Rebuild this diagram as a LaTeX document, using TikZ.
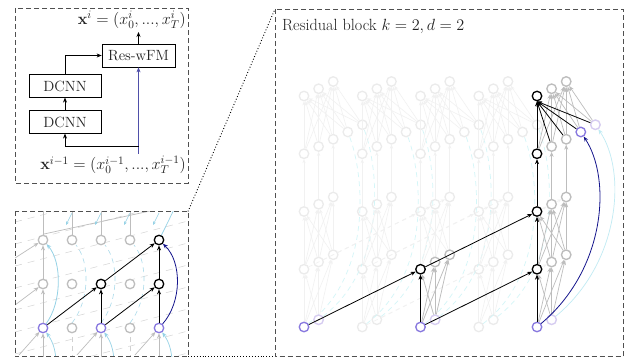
\RequirePackage{fix-cm}
\documentclass[tikz,border=0pt]{standalone}
\usetikzlibrary{arrows.meta}
\definecolor{ngray}{HTML}{BDBDBD}
\definecolor{faintn}{HTML}{EBEBEB}
\definecolor{faintl}{HTML}{F1F1F1}
\definecolor{purp}{HTML}{8878E0}
\definecolor{lpurp}{HTML}{D6CCF2}
\definecolor{navyc}{HTML}{14148C}
\definecolor{skyc}{HTML}{96D2E6}
\definecolor{palecyan}{HTML}{D4F6F8}
\definecolor{framec}{HTML}{505050}
\definecolor{texgray}{HTML}{D4D4D4}
\definecolor{txt}{HTML}{222222}
\begin{document}
\begin{tikzpicture}[x=1pt,y=-1pt,
 every node/.style={font=\fontsize{14.8}{17}\selectfont,text=txt},
 bigtxt/.style={font=\fontsize{16.2}{19}\selectfont},
 neur/.style={circle,line width=1.3pt,minimum size=9.5pt,inner sep=0pt,fill=white},
 bn/.style={neur,draw=black},
 gn/.style={neur,draw=ngray},
 fn/.style={neur,draw=faintn},
 pn/.style={neur,draw=purp},
 lpn/.style={neur,draw=lpurp},
 frame/.style={draw=framec,line width=0.8pt,dash pattern=on 5pt off 3pt},
 tip/.style={-{Stealth[length=5pt,width=4pt]}},
 barr/.style={tip,line width=0.8pt,draw=black},
 garr/.style={tip,line width=0.7pt,draw=ngray},
 farr/.style={-{Stealth[length=4pt,width=3.2pt]},line width=0.6pt,draw=faintl},
 fdash/.style={farr,dash pattern=on 4pt off 4pt},
 box/.style={draw,line width=0.7pt,minimum width=72pt,minimum height=22.5pt,inner sep=0pt},
]
\useasboundingbox (0,0) rectangle (632,358);
\fill[white] (0,0) rectangle (632,358);

% ---------------- top-left panel ----------------
\draw[frame] (15,8) rectangle (188,183);
\node[box,minimum width=73pt,minimum height=23pt] (res) at (138.5,55.5) {Res-wFM};
\node[box] (dc2) at (65,86) {DCNN};
\node[box] (dc1) at (65,122) {DCNN};
\node[bigtxt,anchor=east,inner sep=0pt] (xi) at (186,20) {$\mathbf{x}^i=(x_0^i,...,x_T^i)$};
\node[bigtxt,anchor=east,inner sep=0pt] (xim) at (186,165) {$\mathbf{x}^{i-1}=(x_0^{i-1},...,x_T^{i-1})$};
\coordinate (inb) at (138.5,154);
\coordinate (spl) at (138.5,146.5);
\coordinate (outt) at (138.5,32);
\draw[tip,line width=0.8pt,draw=navyc!75] (inb) -- (res.south);
\draw[barr] (spl) -| (dc1.south);
\draw[barr] (dc1) -- (dc2);
\draw[barr] (dc2.north) |- (res.west);
\draw[barr] (res.north) -- (outt);

% ---------------- bottom-left panel ----------------
\begin{scope}
\clip (15,212) rectangle (188,356.5);
\foreach \yy in {200,222,...,420}
  \draw[texgray,line width=0.5pt,dash pattern=on 7pt off 6pt] (15,\yy) -- (188,\yy-45);
\foreach \xx in {72,101,130}
  \draw[skyc!80,line width=0.6pt,dash pattern=on 5pt off 4pt] (\xx,323) .. controls (\xx+18,300) and (\xx+18,262) .. (\xx+4,245);
\foreach \xx in {72,130}
  \draw[ngray!70,line width=0.6pt,dash pattern=on 5pt off 4pt] (\xx,360) -- (\xx,334);
\foreach \xx in {43,72,101,130}
  \draw[ngray,line width=0.7pt] (\xx,235) -- (\xx,205);
\draw[ngray,line width=0.7pt] (44,234) -- (150,211);
\foreach \xx in {66,95,124,153}
  \draw[skyc,line width=0.6pt,-{Stealth[length=3.5pt,width=3pt]}] (\xx+6,213) -- (\xx,225);
\draw[skyc,line width=0.7pt] (161,236) .. controls (166,226) and (170,218) .. (176,205);

\node[pn] (l10) at (43,328) {};
\node[gn] (l20) at (72,328) {};
\node[pn] (l30) at (101,328) {};
\node[gn] (l40) at (130,328) {};
\node[pn] (l50) at (159,328) {};
\node[gn] (l11) at (43,284) {};
\node[gn] (l21) at (72,284) {};
\node[bn] (l31) at (101,284) {};
\node[gn] (l41) at (130,284) {};
\node[bn] (l51) at (159,284) {};
\node[gn] (l12) at (43,240) {};
\node[gn] (l22) at (72,240) {};
\node[gn] (l32) at (101,240) {};
\node[gn] (l42) at (130,240) {};
\node[bn] (l52) at (159,240) {};

\foreach \n in {l10,l30,l50} {
  \draw[garr] ([yshift=-32pt]\n.center) -- (\n);
  \draw[garr] ([xshift=-24pt,yshift=-27pt]\n.center) -- (\n);
  \draw[tip,skyc,line width=0.7pt] ([xshift=13pt,yshift=-32pt]\n.center) to[bend right=15] (\n);
}
\draw[garr] (l10) -- (l11);
\draw[garr] (l11) -- (l12);
\draw[garr] ([xshift=-28pt,yshift=-18pt]l12.center) -- (l12);
\draw[garr] ([xshift=-28pt,yshift=-21pt]l11.center) -- (l11);
\draw[tip,skyc,line width=0.8pt] (l10) .. controls (62,302) and (62,262) .. (l12);
\draw[barr] (l10) -- (l31);
\draw[barr] (l30) -- (l31);
\draw[barr] (l30) -- (l51);
\draw[barr] (l50) -- (l51);
\draw[barr] (l31) -- (l52);
\draw[barr] (l51) -- (l52);
\draw[tip,navyc,line width=0.8pt] (l50) .. controls (182,302) and (182,262) .. (l52);
\end{scope}
\draw[frame] (15,211.5) rectangle (188,356.5);

% dotted zoom connectors
\coordinate (zA) at (188,211.5);
\coordinate (zB) at (275,9);
\coordinate (zC) at (188,356.5);
\coordinate (zD) at (275,356.5);
\draw[dotted,line width=0.9pt] (zA) -- (zB);
\draw[dotted,line width=0.9pt] (zC) -- (zD);

% ---------------- right panel ----------------
\draw[frame] (275,9) rectangle (623,356.5);
\node[bigtxt,anchor=west,inner sep=0pt] (title) at (282,26) {Residual block $k=2, d=2$};

% faint nodes
\foreach \ti in {0,1,2,3,4} {
  \foreach \L/\nk in {0/1,1/2,2/2,3/4,4/2} {
    \foreach \k in {0,...,\nk} {
      \node[fn] (r\ti\L\k) at ({304+58.25*\ti+14.6*\k},{327-57.75*\L-7.25*\k}) {};
    }
  }
}
% faint cyan residual curves
\foreach \ti in {0,1,2,3} {
  \foreach \k/\kk in {0/3,1/4} {
    \draw[palecyan,line width=0.7pt,dash pattern=on 5pt off 4pt] (r\ti0\k) .. controls ++(68,-52) and ++(17,45) .. (r\ti3\kk);
  }
}
% faint within-column edges
\foreach \ti in {0,1,2,3} {
  \foreach \a in {0,1} \foreach \b in {0,1,2} \draw[farr] (r\ti0\a) -- (r\ti1\b);
  \foreach \a in {0,1,2} \foreach \b in {0,1,2} \draw[farr] (r\ti1\a) -- (r\ti2\b);
  \foreach \a in {0,1,2} \draw[farr] (r\ti2\a) -- (r\ti3\a);
  \foreach \a in {0,...,4} \foreach \b in {0,1,2} \draw[farr] (r\ti3\a) -- (r\ti4\b);
}
% faint cross-time edges
\foreach \ti in {0,1,2} {
  \pgfmathtruncatemacro\tn{\ti+2}
  \foreach \k in {0,1} \draw[fdash] (r\ti0\k) -- (r\tn1\k);
  \foreach \k in {0,1,2} \draw[fdash] (r\ti1\k) -- (r\tn2\k);
}

% coloured nodes
\node[pn] (r000) at (304,327) {};
\node[lpn] (r001) at (318.6,319.75) {};
\node[pn] (r200) at (420.5,327) {};
\node[lpn] (r201) at (435.1,319.75) {};
\node[bn] (r210) at (420.5,269.25) {};
\node[gn] (r211) at (435.1,262) {};
\node[gn] (r212) at (449.7,254.75) {};
\node[pn] (r400) at (537,327) {};
\node[lpn] (r401) at (551.6,319.75) {};
\node[bn] (r410) at (537,269.25) {};
\node[gn] (r411) at (551.6,262) {};
\node[gn] (r412) at (566.2,254.75) {};
\node[bn] (r420) at (537,211.5) {};
\node[gn] (r421) at (551.6,204.25) {};
\node[gn] (r422) at (566.2,197) {};
\node[bn] (r430) at (537,153.75) {};
\node[gn] (r431) at (551.6,146.5) {};
\node[gn] (r432) at (566.2,139.25) {};
\node[pn] (r433) at (580.8,132) {};
\node[lpn] (r434) at (595.4,124.75) {};
\node[bn] (r440) at (537,96) {};
\node[gn] (r441) at (551.6,88.75) {};
\node[gn] (r442) at (566.2,81.5) {};

% grey edges
\foreach \a in {0,1} \foreach \b in {0,1,2} \draw[garr] (r20\a) -- (r21\b);
\foreach \a in {0,1} \foreach \b in {0,1,2} \draw[garr] (r40\a) -- (r41\b);
\foreach \a in {0,1,2} \foreach \b in {0,1,2} \draw[garr] (r41\a) -- (r42\b);
\draw[garr] (r421) -- (r431);
\draw[garr] (r422) -- (r432);
\foreach \a in {0,...,4} \foreach \b in {1,2} \draw[garr] (r43\a) -- (r44\b);
% residual curves
\draw[tip,line width=0.7pt,draw=palecyan!70!skyc] (r401) .. controls (620,263) and (627,172) .. (r434);
\draw[tip,line width=0.8pt,draw=navyc] (r400) .. controls (605,270) and (612,180) .. (r433);
% black edges
\draw[barr] (r000) -- (r210);
\draw[barr] (r200) -- (r210);
\draw[barr] (r200) -- (r410);
\draw[barr] (r210) -- (r420);
\draw[barr] (r400) -- (r410);
\draw[barr] (r410) -- (r420);
\draw[barr] (r420) -- (r430);
\foreach \a in {0,...,4} \draw[barr] (r43\a) -- (r440.south);
\end{tikzpicture}
\end{document}
